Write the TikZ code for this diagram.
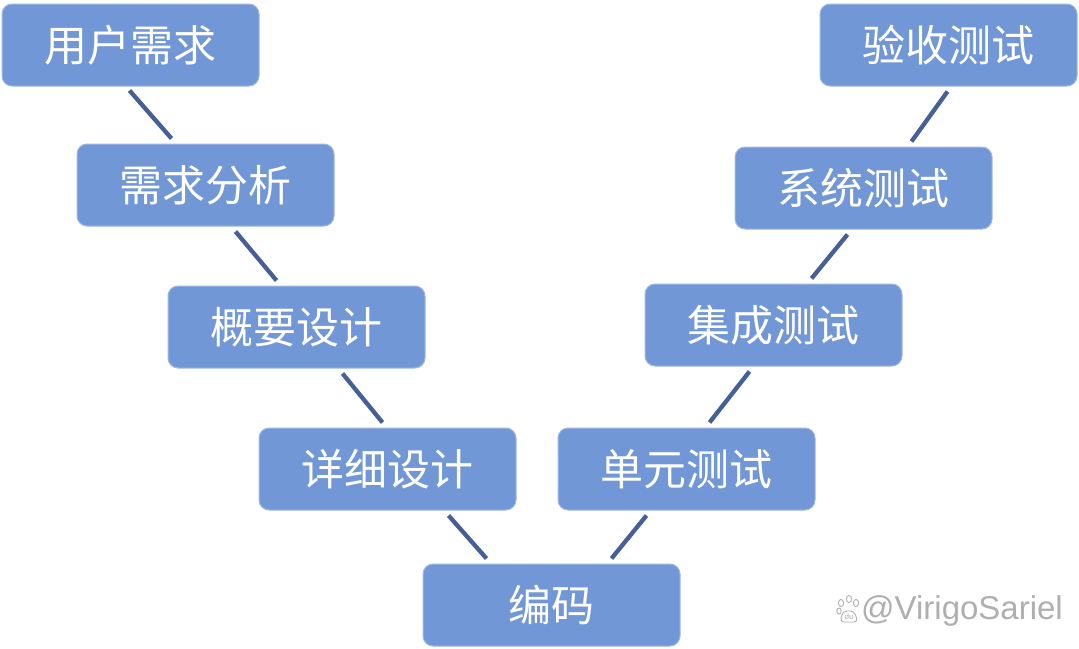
\documentclass[tikz,border=0pt]{standalone}
\usepackage{fontspec}
\newfontfamily\cjk{Noto Sans CJK SC}
\setsansfont{Liberation Sans}
\usetikzlibrary{calc}
\definecolor{boxblue}{RGB}{114,151,214}
\definecolor{boxedge}{RGB}{160,185,228}
\definecolor{linkblue}{RGB}{68,96,150}
\definecolor{wmgray}{RGB}{175,175,175}
\begin{document}
\begin{tikzpicture}[x=1pt,y=-1pt,
  box/.style={rounded corners=10pt, fill=boxblue, draw=boxedge, line width=1pt,
    minimum width=257pt, minimum height=82pt, inner sep=0pt,
    font=\cjk\fontsize{43}{43}\selectfont, text=white},
  link/.style={draw=linkblue, line width=4.3pt},
  wm/.style={draw=wmgray, line width=0.9pt}]
\useasboundingbox (0,0) rectangle (1079,648);
\node[box] (a) at (130.5,45) {用户需求};
\node[box] (b) at (205.5,185) {需求分析};
\node[box] (c) at (296.5,327) {概要设计};
\node[box] (d) at (387.5,469) {详细设计};
\node[box] (e) at (551.5,605) {编码};
\node[box] (f) at (686.5,469) {单元测试};
\node[box] (g) at (773.5,325) {集成测试};
\node[box] (h) at (863.5,188) {系统测试};
\node[box] (i) at (948.5,45) {验收测试};
\draw[link] ($(a.south west)+(128,4)$) -- ($(b.north west)+(95,-5)$);
\draw[link] ($(b.south west)+(159,5)$) -- ($(c.north west)+(109,-5)$);
\draw[link] ($(c.south west)+(175,5)$) -- ($(d.north west)+(124,-5)$);
\draw[link] ($(d.south west)+(190,5)$) -- ($(e.north west)+(64,-5)$);
\draw[link] ($(e.north west)+(189,-5)$) -- ($(f.south west)+(89,5)$);
\draw[link] ($(f.north west)+(152,-5)$) -- ($(g.south west)+(105,5)$);
\draw[link] ($(g.north west)+(167,-5)$) -- ($(h.south west)+(113,5)$);
\draw[link] ($(h.north west)+(177,-5)$) -- ($(i.south west)+(128,5)$);
% watermark
\node[inner sep=0pt, anchor=west, text=wmgray, font=\sffamily\fontsize{33}{33}\selectfont] (wmtext) at (861,611) {@VirigoSariel};
\draw[wm] (841,603) ellipse (2.6 and 3.6);
\draw[wm] (849,599) ellipse (2.6 and 3.6);
\draw[wm] (856,603) ellipse (2.6 and 3.6);
\draw[wm] (839,611) ellipse (2.2 and 3);
\draw[wm, rounded corners=4pt] (840,622) -- (843,611) -- (854,611) -- (858,622) -- cycle;
\node[inner sep=0pt, text=wmgray, font=\sffamily\fontsize{8}{8}\selectfont] (wmdu) at (849,617) {du};
\end{tikzpicture}
\end{document}
